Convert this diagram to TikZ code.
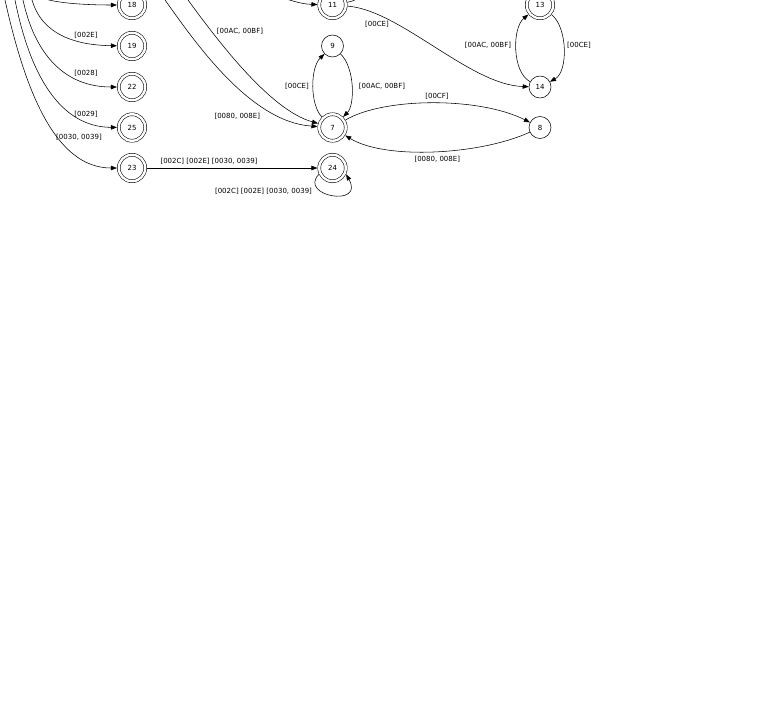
\documentclass[tikz,border=0pt]{standalone}
\usepackage{fontspec}
\setmainfont{DejaVu Sans}
\usetikzlibrary{arrows.meta}
\tikzset{
  st/.style={circle,draw,minimum size=22pt,inner sep=0pt},
  acc/.style={st,double,double distance=2.4pt,minimum size=26.5pt,outer sep=1.8pt},
  arr/.style={-{Triangle[length=6pt,width=4.5pt]}},
  lbl/.style={inner sep=0pt}
}
\begin{document}
\begin{tikzpicture}[x=1pt,y=-1pt,line width=0.55pt,font=\fontsize{7}{8}\selectfont]
   \useasboundingbox (0,0) rectangle (777,726);
   \clip (0,0) rectangle (777,726);
   \node[acc] (n18) at (132,5) {18};
   \node[acc] (n19) at (132,46) {19};
   \node[acc] (n22) at (132,87) {22};
   \node[acc] (n25) at (132,127.5) {25};
   \node[acc] (n23) at (132,168) {23};
   \node[acc] (n11) at (332.5,5) {11};
   \node[st] (n9) at (332.5,46) {9};
   \node[acc] (n7) at (332.5,127.5) {7};
   \node[acc] (n24) at (332.5,168) {24};
   \node[acc] (n13) at (540,5) {13};
   \node[st] (n14) at (540,87) {14};
   \node[st] (n8) at (540,127.5) {8};
   \coordinate (s18) at (40,-3);
   \coordinate (s19) at (32,0);
   \coordinate (s22) at (23,0);
   \coordinate (s25) at (15,0);
   \coordinate (s23) at (5,0);
   \coordinate (s7a) at (188,0);
   \coordinate (s7b) at (165,0);
   \coordinate (s11) at (270,-6);
   \coordinate (e11) at (385,-25);
   \draw[arr] (s18) .. controls (52,3) and (85,5) .. (n18);
   \draw[arr] (s19) .. controls (40,28) and (65,45) .. (n19);
   \draw[arr] (s22) .. controls (35,55) and (65,87) .. (n22);
   \draw[arr] (s25) .. controls (30,75) and (60,127) .. (n25);
   \draw[arr] (s23) .. controls (25,90) and (55,168) .. (n23);
   \draw[arr] (s7a) .. controls (218,41) and (270,110) .. (n7);
   \draw[arr] (s7b) .. controls (195,42) and (250,122) .. (n7);
   \draw[arr] (s11) .. controls (290,0) and (300,4) .. (n11);
   \draw (n11) .. controls (360,0) and (372,-10) .. (e11);
   \draw[arr] (n11) .. controls (400,10) and (470,85) .. (n14);
   \draw[arr] (n7) .. controls (310,105) and (310,68) .. (n9);
   \draw[arr] (n9) .. controls (355,68) and (355,105) .. (n7);
   \draw[arr] (n14) .. controls (512,72) and (512,28) .. (n13);
   \draw[arr] (n13) .. controls (568,28) and (568,72) .. (n14);
   \draw[arr] (n7) .. controls (385,97) and (480,97) .. (n8);
   \draw[arr] (n8) .. controls (480,155) and (385,160) .. (n7);
   \draw[arr] (n23) -- (n24);
   \draw[arr] (n24.205) .. controls (298,196) and (365,208) .. (n24.-25);
   \node[lbl] (l19) at (86,35) {[002E]};
   \node[lbl] (l22) at (86,73.3) {[0028]};
   \node[lbl] (l25) at (86,114.3) {[0029]};
   \node[lbl] (l23) at (79,137.3) {[0030, 0039]};
   \node[lbl] (l7a) at (240,31.7) {[00AC, 00BF]};
   \node[lbl] (l7b) at (237.3,116.7) {[0080, 008E]};
   \node[lbl] (l1114) at (377,24.3) {[00CE]};
   \node[lbl] (l79) at (297,86.7) {[00CE]};
   \node[lbl] (l97) at (382,86.3) {[00AC, 00BF]};
   \node[lbl] (l1413) at (488,45.7) {[00AC, 00BF]};
   \node[lbl] (l1314) at (579,45.7) {[00CE]};
   \node[lbl] (l78) at (437,96.7) {[00CF]};
   \node[lbl] (l87) at (437.3,159.3) {[0080, 008E]};
   \node[lbl] (l2324) at (209,161.5) {[002C] [002E] [0030, 0039]};
   \node[lbl] (l2424) at (263.5,191.3) {[002C] [002E] [0030, 0039]};
\end{tikzpicture}
\end{document}
